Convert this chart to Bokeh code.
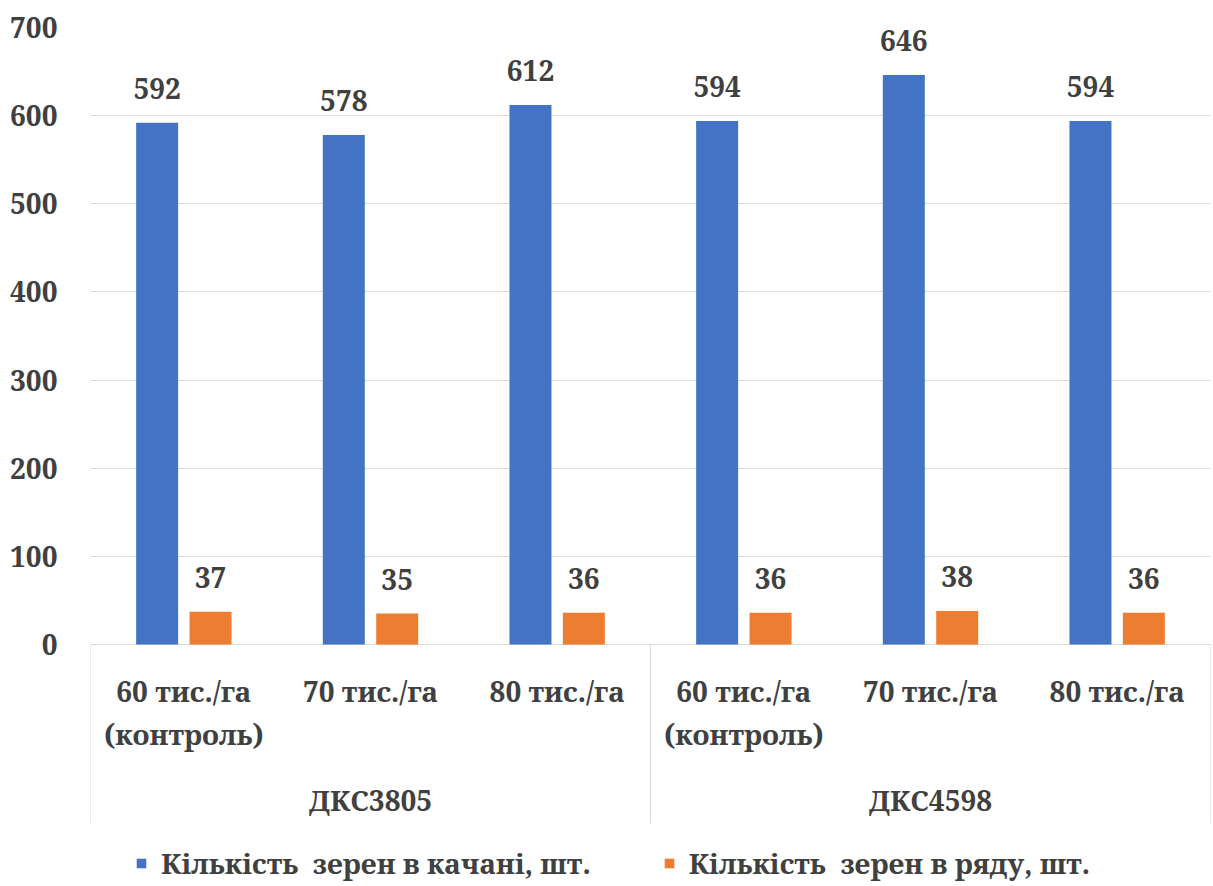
from bokeh.plotting import figure
from bokeh.models import FactorRange, ColumnDataSource, FixedTicker, Legend, LegendItem
from bokeh.transform import dodge
from bokeh.core.properties import value
from bokeh.embed import file_html
from bokeh.resources import INLINE

# ---- data ----
groups = ["ДКС3805", "ДКС4598"]
densities = ["60", "70", "80"]
density_labels = ["60 тис./га\n(контроль)", "70 тис./га", "80 тис./га"]
kernels_per_ear = [592, 578, 612, 594, 646, 594]
kernels_per_row = [37, 35, 36, 36, 38, 36]
series_names = ["Кількість  зерен в качані, шт.", "Кількість  зерен в ряду, шт."]
y_ticks = [0, 100, 200, 300, 400, 500, 600, 700]

FONT = "Noto Serif"
FS = "28px"
TXT = "#404040"
BLUE = "#4472C4"
ORANGE = "#ED7D31"
GRID = "#d9d9d9"

x = [(g, d) for g in groups for d in densities]
src = ColumnDataSource(dict(
    x=x,
    ear=kernels_per_ear,
    row=kernels_per_row,
    ear_lbl=[str(v) for v in kernels_per_ear],
    row_lbl=[str(v) for v in kernels_per_row],
    cat_lbl=[density_labels[i % 3] for i in range(len(x))],
))

xr = FactorRange(*x, range_padding=0, group_padding=0, factor_padding=0, subgroup_padding=0)

p = figure(width=1213, height=886, x_range=xr, y_range=(-274.6, 700),
           output_backend="svg", toolbar_location=None,
           min_border_left=90, min_border_right=3, min_border_top=27, min_border_bottom=0)
p.outline_line_color = None
p.xaxis.visible = False
p.xgrid.visible = False

p.yaxis.ticker = FixedTicker(ticks=y_ticks)
p.yaxis.axis_line_color = None
p.yaxis.major_tick_line_color = None
p.yaxis.minor_tick_line_color = None
p.yaxis.major_label_text_font = FONT
p.yaxis.major_label_text_font_style = "bold"
p.yaxis.major_label_text_font_size = FS
p.yaxis.major_label_text_color = TXT
p.yaxis.major_label_standoff = 27
p.ygrid.grid_line_color = GRID
p.ygrid.grid_line_width = 1

OFF = 0.143
W = 0.225
r1 = p.vbar(x=dodge("x", -OFF, range=xr), top="ear", width=W, source=src,
            fill_color=BLUE, line_color=None)
r2 = p.vbar(x=dodge("x", OFF, range=xr), top="row", width=W, source=src,
            fill_color=ORANGE, line_color=None)

lbl_kw = dict(text_font=value(FONT), text_font_style="bold", text_font_size=FS,
              text_color=TXT, text_align="center", text_baseline="bottom", y_offset=-24)
p.text(x=dodge("x", -OFF, range=xr), y="ear", text="ear_lbl", source=src, **lbl_kw)
p.text(x=dodge("x", OFF, range=xr), y="row", text="row_lbl", source=src, **lbl_kw)

# category table lines
p.segment(x0=[0, 3, 6], y0=[0, 0, 0], x1=[0, 3, 6], y1=[-203, -203, -203],
          line_color=GRID, line_width=1)

# category labels
p.text(x="x", y=-31, text="cat_lbl", source=src, text_font=value(FONT),
       text_font_style="bold", text_font_size=FS, text_color=TXT,
       text_align="center", text_baseline="top", text_line_height=1.15)
# group labels
p.text(x=[(g, densities[1]) for g in groups], y=[-177] * len(groups), text=groups,
       text_font=value(FONT), text_font_style="bold", text_font_size=FS,
       text_color=TXT, text_align="center", text_baseline="middle")

legend = Legend(items=[LegendItem(label=series_names[0], renderers=[r1]),
                       LegendItem(label=series_names[1], renderers=[r2])],
                orientation="horizontal", location=(45, 4),
                glyph_width=12, glyph_height=12, label_standoff=14, spacing=72,
                padding=0, margin=0, border_line_color=None, background_fill_alpha=0,
                label_text_font=FONT, label_text_font_style="bold",
                label_text_font_size=FS, label_text_color=TXT)
p.add_layout(legend)

open("out.html", "w").write(file_html(p, INLINE))
